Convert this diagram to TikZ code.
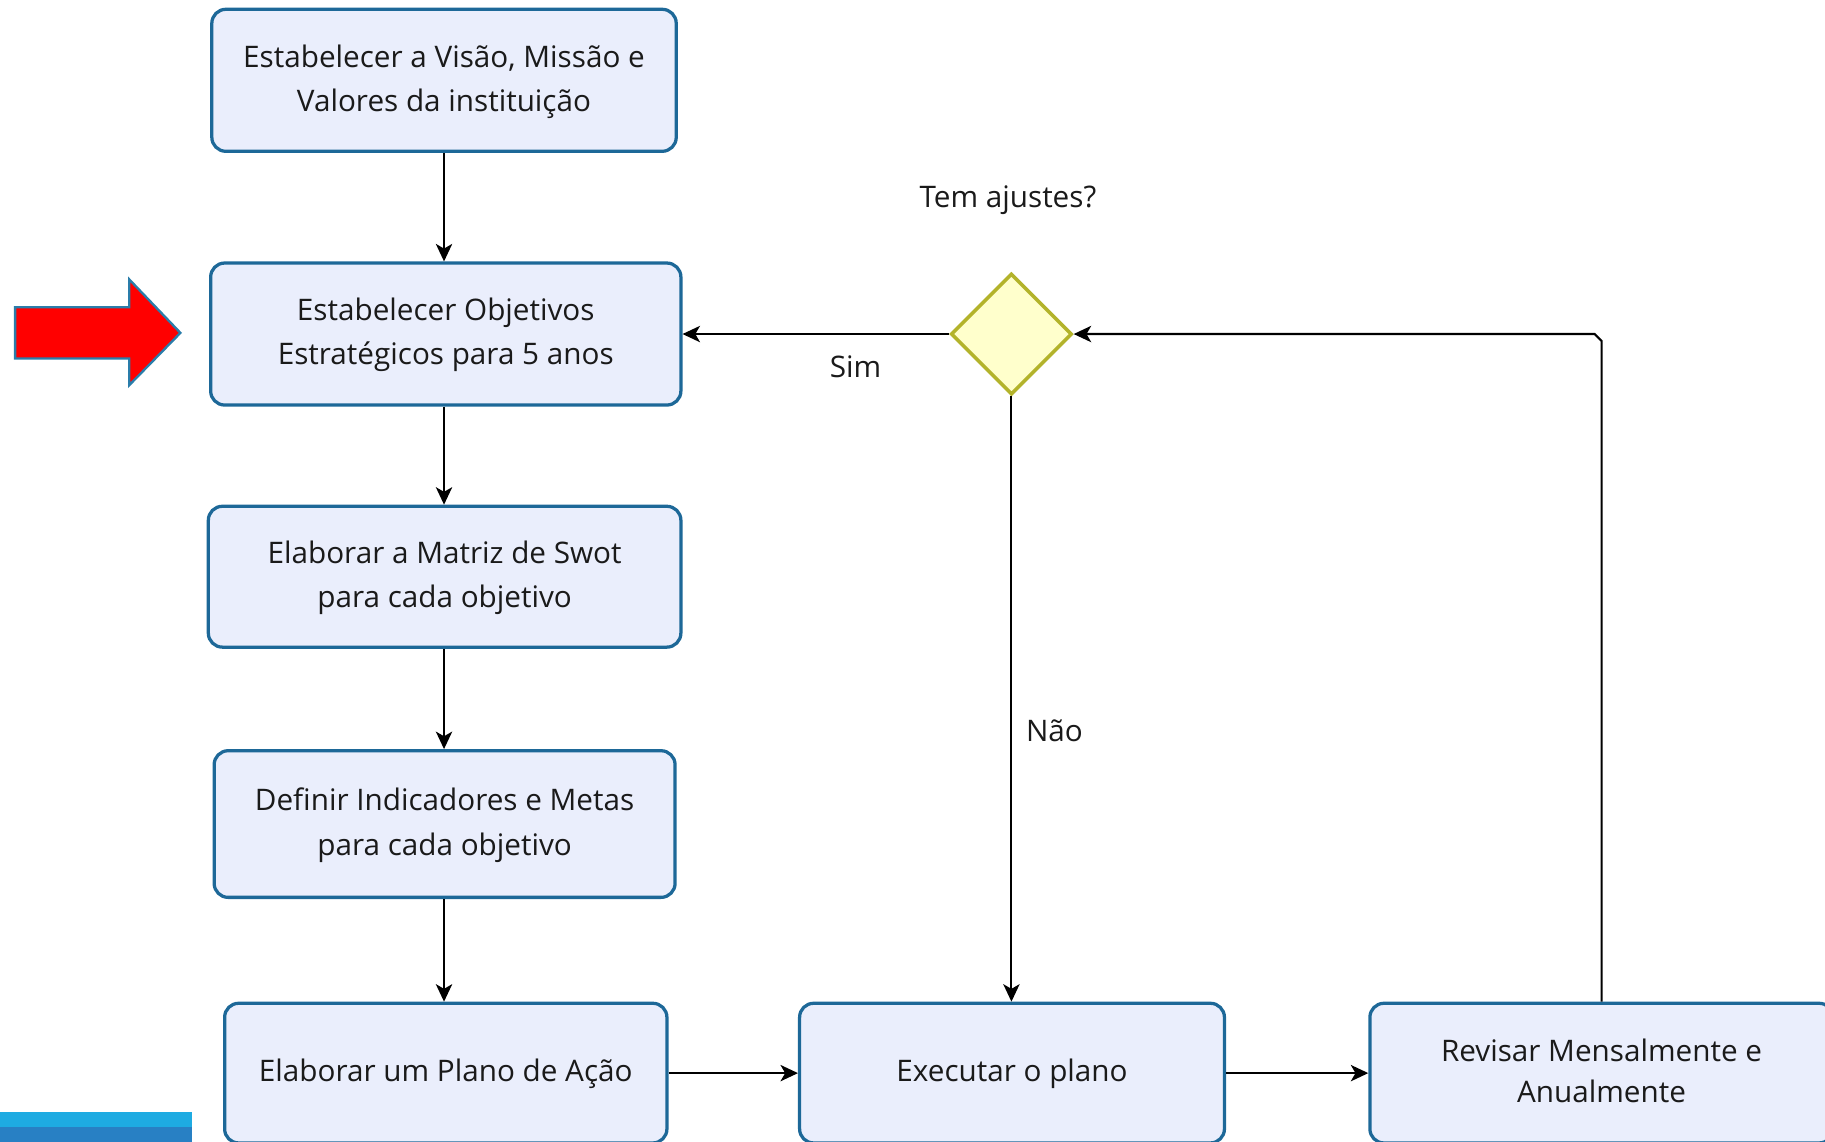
\documentclass[tikz,border=0pt]{standalone}
\usepackage{fontspec}
\setmainfont{Open Sans}
\usetikzlibrary{arrows.meta,shapes.geometric}
\definecolor{boxfill}{HTML}{EAEEFC}
\definecolor{boxline}{HTML}{1D6898}
\definecolor{dfill}{HTML}{FFFFCC}
\definecolor{dline}{HTML}{B3B32B}
\definecolor{arrline}{HTML}{2A7DAA}
\definecolor{barone}{HTML}{1EABE2}
\definecolor{bartwo}{HTML}{2880C4}
\definecolor{txt}{HTML}{1A1A1A}
\newcommand{\boxtext}[1]{\begin{tabular}{@{}c@{}}#1\end{tabular}}
\begin{document}
\begin{tikzpicture}[x=1pt,y=-1pt,
  proc/.style={draw=boxline, fill=boxfill, line width=2.8pt, rounded corners=12pt, inner sep=0pt, align=center, text=txt, font=\fontsize{25.5}{38}\selectfont},
  dec/.style={diamond, draw=dline, fill=dfill, line width=3pt, minimum width=104pt, minimum height=104pt, inner sep=0pt},
  lbl/.style={text=txt, font=\fontsize{25.5}{38}\selectfont, inner sep=0pt},
  conn/.style={draw=black, line width=1.8pt, -{Stealth[length=15pt,width=14pt,inset=4pt]}},
  bigarrow/.style={fill=red, draw=arrline, line width=2pt, line join=miter}
]
\useasboundingbox (0,0) rectangle (1568,981);
\clip (0,0) rectangle (1568,981);

\node[proc, minimum width=399pt, minimum height=122pt] (b1) at (381.5,69) {\boxtext{Estabelecer a Visão, Missão e\\Valores da instituição}};
\node[proc, minimum width=404pt, minimum height=122pt] (b2) at (383,287) {\boxtext{Estabelecer Objetivos\\Estratégicos para 5 anos}};
\node[proc, minimum width=406pt, minimum height=121pt] (b3) at (382,495.5) {\boxtext{Elaborar a Matriz de Swot\\para cada objetivo}};
\node[proc, minimum width=396pt, minimum height=126pt] (b4) at (382,708) {\boxtext{Definir Indicadores e Metas\\para cada objetivo}};
\node[proc, minimum width=380pt, minimum height=120pt] (b5) at (383,922) {\boxtext{Elaborar um Plano de Ação}};
\node[proc, minimum width=365pt, minimum height=120pt] (b6) at (869.5,922) {\boxtext{Executar o plano}};
\node[proc, minimum width=398pt, minimum height=120pt] (b7) at (1376,922) {\boxtext{Revisar Mensalmente e\\[-3pt]Anualmente}};
\node[dec] (dia) at (869,287) {};

\node[lbl] (q) at (866,172) {Tem ajustes?};
\node[lbl] (sim) at (735,315) {Sim};
\node[lbl] (nao) at (906,628) {Não};

\draw[conn] (b1.south) -- (b1.south |- b2.north);
\draw[conn] (b2.south -| b1.south) -- (b1.south |- b3.north);
\draw[conn] (b3.south -| b1.south) -- (b1.south |- b4.north);
\draw[conn] (b4.south -| b1.south) -- (b1.south |- b5.north);
\draw[conn] (b5.east) -- (b6.west);
\draw[conn] (b6.east) -- (b7.west);
\draw[conn] (dia.west) -- (b2.east);
\draw[conn] (dia.south) -- (dia.south |- b6.north);
\coordinate (ca) at (1376,293);
\coordinate (cb) at (1370,287);
\draw[conn] (b7.north) -- (ca) -- (cb) -- (dia.east);

\draw[bigarrow] (13,264) -- (111,264) -- (111,240) -- (155,286) -- (111,331) -- (111,308) -- (13,308) -- cycle;

\fill[barone] (0,955) rectangle (165,968);
\fill[bartwo] (0,968) rectangle (165,981);
\end{tikzpicture}
\end{document}
